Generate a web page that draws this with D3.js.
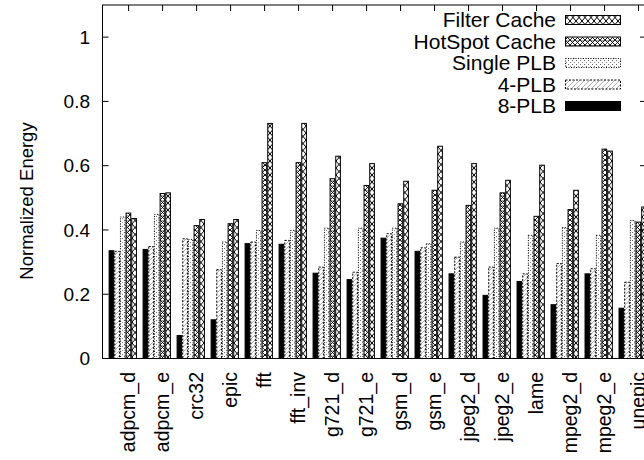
<!DOCTYPE html>
<html><head><meta charset="utf-8">
<script src="https://cdn.jsdelivr.net/npm/d3@7"></script>
<style>
html,body{margin:0;padding:0;background:#fff;}
svg{display:block;font-family:"Liberation Sans",Arial,Helvetica,sans-serif;}
</style></head>
<body>
<svg id="chart" width="644" height="460"></svg>
<script>
const categories = ["adpcm_d","adpcm_e","crc32","epic","fft","fft_inv","g721_d","g721_e","gsm_d","gsm_e","jpeg2_d","jpeg2_e","lame","mpeg2_d","mpeg2_e","unepic"];
const plb8    = [0.337,0.341,0.073,0.122,0.359,0.357,0.267,0.247,0.376,0.335,0.265,0.198,0.241,0.169,0.265,0.158];
const plb4    = [0.335,0.350,0.374,0.278,0.364,0.369,0.286,0.270,0.390,0.346,0.317,0.286,0.265,0.297,0.281,0.239];
const plbSingle=[0.442,0.450,0.372,0.364,0.400,0.400,0.407,0.407,0.407,0.359,0.364,0.407,0.385,0.409,0.385,0.431];
const hotspot = [0.454,0.515,0.415,0.421,0.611,0.611,0.561,0.540,0.483,0.525,0.478,0.517,0.444,0.465,0.653,0.426];
const filter  = [0.437,0.517,0.434,0.434,0.733,0.733,0.631,0.608,0.553,0.662,0.608,0.556,0.603,0.525,0.647,0.473];
const seriesNames = ["8-PLB","4-PLB","Single PLB","HotSpot Cache","Filter Cache"];
const seriesValues = [plb8, plb4, plbSingle, hotspot, filter];
const yTicks = [0,0.2,0.4,0.6,0.8,1];
const yTickLabels = ["0","0.2","0.4","0.6","0.8","1"];
const yTitle = "Normalized Energy";

(function(){
const svg = d3.select("#chart");
const pL = 102.5, pR = 646, pT = 5, pB = 358.5;

const x = d3.scaleLinear().domain([-0.768, 15.22]).range([pL, pR]);
const y = d3.scaleLinear().domain([0, 1.1]).range([pB, pT]);
const unit = x(1) - x(0);
const barW = unit / 6;
const groupOffset = -20 / unit;

const defs = svg.append("defs");
const pf = defs.append("pattern").attr("id","pFilter").attr("patternUnits","userSpaceOnUse").attr("width",6).attr("height",7);
pf.append("rect").attr("width",6).attr("height",7).attr("fill","#fff");
pf.append("path").attr("d","M0,0L6,7M6,0L0,7").attr("stroke","#000").attr("stroke-width",1);

const ph = defs.append("pattern").attr("id","pHot").attr("patternUnits","userSpaceOnUse").attr("width",5).attr("height",5);
ph.append("rect").attr("width",5).attr("height",5).attr("fill","#fff");
ph.append("path").attr("d","M0,0L5,5M5,0L0,5").attr("stroke","#000").attr("stroke-width",0.9);
ph.append("circle").attr("cx",2.5).attr("cy",0).attr("r",1).attr("fill","none").attr("stroke","#333").attr("stroke-width",0.6);

const ps = defs.append("pattern").attr("id","pSingle").attr("patternUnits","userSpaceOnUse").attr("width",4).attr("height",4);
ps.append("rect").attr("width",4).attr("height",4).attr("fill","#fff");
ps.append("rect").attr("x",0).attr("y",0).attr("width",1).attr("height",1).attr("fill","#666");
ps.append("rect").attr("x",2).attr("y",2).attr("width",1).attr("height",1).attr("fill","#888");

const p4 = defs.append("pattern").attr("id","p4").attr("patternUnits","userSpaceOnUse").attr("width",5).attr("height",5);
p4.append("rect").attr("width",5).attr("height",5).attr("fill","#fff");
p4.append("path").attr("d","M0,5L5,0").attr("stroke","#888").attr("stroke-width",0.7);

const styles = [
  {fill:"#000", dash:null},
  {fill:"url(#p4)", dash:"2,1.5"},
  {fill:"url(#pSingle)", dash:"1,1.5"},
  {fill:"url(#pHot)", dash:null},
  {fill:"url(#pFilter)", dash:null}
];

defs.append("clipPath").attr("id","clipPlot").append("rect").attr("x",pL).attr("y",pT).attr("width",pR-pL).attr("height",pB-pT);

const ax = svg.append("g");
categories.forEach((c,i)=>{
  ax.append("line").attr("x1",x(i)).attr("x2",x(i)).attr("y1",pB).attr("y2",pB-6).attr("stroke","#000");
});

const bars = svg.append("g").attr("clip-path","url(#clipPlot)");
seriesValues.forEach((vals,j)=>{
  bars.selectAll(null).data(vals).enter().append("rect")
    .attr("x",(d,i)=> x(i + groupOffset) + j*barW + 0.5)
    .attr("y",d=> y(d)+0.5)
    .attr("width", barW - 1)
    .attr("height", d=> y(0)-y(d) - 0.5)
    .attr("fill", styles[j].fill)
    .attr("stroke", "#000")
    .attr("stroke-width", 1)
    .attr("stroke-dasharray", styles[j].dash);
});

const fr = svg.append("g").attr("stroke","#000").attr("stroke-width",1).attr("fill","none");
fr.append("rect").attr("x",pL).attr("y",pT).attr("width",pR-pL).attr("height",pB-pT);
categories.forEach((c,i)=>{
  fr.append("line").attr("x1",x(i)).attr("x2",x(i)).attr("y1",pT).attr("y2",pT+6);
});
yTicks.forEach(t=>{
  fr.append("line").attr("x1",pL).attr("x2",pL+6).attr("y1",y(t)).attr("y2",y(t));
  fr.append("line").attr("x1",pR-6).attr("x2",pR).attr("y1",y(t)).attr("y2",y(t));
});

svg.append("g").selectAll("text").data(yTicks).enter().append("text")
  .attr("x", 90).attr("y", d=>y(d)).attr("dy","0.35em")
  .attr("text-anchor","end").attr("font-size",19).text((d,i)=>yTickLabels[i]);

svg.append("g").selectAll("text").data(categories).enter().append("text")
  .attr("transform",(d,i)=>`translate(${x(i)},372) rotate(-90)`)
  .attr("dy","0.35em").attr("text-anchor","end").attr("font-size",19.5).text(d=>d);

svg.append("text").attr("transform",`translate(33,201) rotate(-90)`)
  .attr("text-anchor","middle").attr("font-size",18.5).text(yTitle);

const legendOrder = [4,3,2,1,0];
const lg = svg.append("g");
legendOrder.forEach((j,k)=>{
  const cy = 20 + k*21.5;
  lg.append("text").attr("x",556).attr("y",cy).attr("dy","0.35em").attr("text-anchor","end")
    .attr("font-size",21).text(seriesNames[j]);
  lg.append("rect").attr("x",565.5).attr("y",cy-4.5).attr("width",55).attr("height",9)
    .attr("fill",styles[j].fill).attr("stroke","#000").attr("stroke-width",1)
    .attr("stroke-dasharray",styles[j].dash);
});
})();
</script>
</body></html>
